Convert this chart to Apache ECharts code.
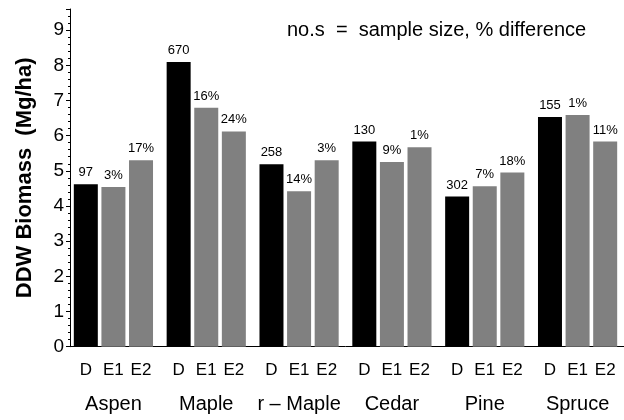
<!DOCTYPE html>
<html>
<head>
<meta charset="utf-8">
<script src="https://cdn.jsdelivr.net/npm/echarts@6/dist/echarts.min.js"></script>
<style>
html,body{margin:0;padding:0;background:#fff;}
#chart{width:624px;height:420px;}
</style>
</head>
<body>
<div id="chart"></div>
<script>
const categories = ['Aspen', 'Maple', 'r \u2013 Maple', 'Cedar', 'Pine', 'Spruce'];
const barNames = ['D', 'E1', 'E2'];
const dValues  = [4.62, 8.09, 5.19, 5.83, 4.27, 6.53];
const e1Values = [4.54, 6.79, 4.42, 5.25, 4.56, 6.59];
const e2Values = [5.30, 6.12, 5.30, 5.67, 4.95, 5.83];
const sampleSize = [97, 670, 258, 130, 302, 155];
const e1Diff = [3, 16, 14, 9, 7, 1];
const e2Diff = [17, 24, 3, 1, 18, 11];
const baseline = [0, 0, 0, 0, 0, 0];
const yTicks = [0, 1, 2, 3, 4, 5, 6, 7, 8, 9];

const FONT = '"Liberation Sans", Arial, Helvetica, sans-serif';
const GRAY = '#808080';

function baseSeries(stack, name) {
  return {
    type: 'bar', stack: stack, data: baseline, barWidth: 24, barGap: '15%',
    silent: true, itemStyle: { color: 'transparent' },
    label: { show: true, position: 'bottom', distance: 15, formatter: name,
             fontFamily: FONT, fontSize: 17, color: '#000' }
  };
}
function mainSeries(stack, data, color, labels) {
  return {
    type: 'bar', stack: stack, data: data, barWidth: 24, barGap: '15%',
    itemStyle: { color: color },
    label: { show: true, position: 'top', distance: 5, fontFamily: FONT, fontSize: 13, color: '#000',
             formatter: p => labels[p.dataIndex] }
  };
}

const chart = echarts.init(document.getElementById('chart'), null, { renderer: 'canvas' });
chart.setOption({
  animation: false,
  backgroundColor: '#fff',
  title: {
    text: 'no.s  =  sample size, % difference',
    left: 282, top: 15,
    textStyle: { fontFamily: FONT, fontSize: 20, fontWeight: 'normal', color: '#000' }
  },
  grid: { left: 67, right: 0, top: 9, bottom: 73.3 },
  xAxis: {
    type: 'category', data: categories,
    axisLine: { lineStyle: { color: '#000', width: 1 } },
    axisTick: { show: false },
    axisLabel: { interval: 0, margin: 48, fontFamily: FONT, fontSize: 20, color: '#000' }
  },
  yAxis: {
    type: 'value', min: 0, max: 9.6, interval: 1, offset: -3,
    name: 'DDW Biomass  (Mg/ha)', nameLocation: 'middle', nameGap: 34,
    nameTextStyle: { fontFamily: FONT, fontSize: 22, fontWeight: 'bold', color: '#000' },
    axisLine: { show: true, lineStyle: { color: '#000', width: 1 } },
    axisTick: { show: true, length: 4, lineStyle: { color: '#000' } },
    minorTick: { show: true, splitNumber: 5, length: 2, lineStyle: { color: '#000' } },
    splitLine: { show: false },
    axisLabel: { margin: 6, fontFamily: FONT, fontSize: 19, color: '#000',
                 formatter: v => (yTicks.indexOf(v) >= 0 ? String(v) : '') }
  },
  series: [
    baseSeries('d', barNames[0]),
    mainSeries('d', dValues, '#000', sampleSize.map(String)),
    baseSeries('e1', barNames[1]),
    mainSeries('e1', e1Values, GRAY, e1Diff.map(v => v + '%')),
    baseSeries('e2', barNames[2]),
    mainSeries('e2', e2Values, GRAY, e2Diff.map(v => v + '%'))
  ]
});
</script>
</body>
</html>
